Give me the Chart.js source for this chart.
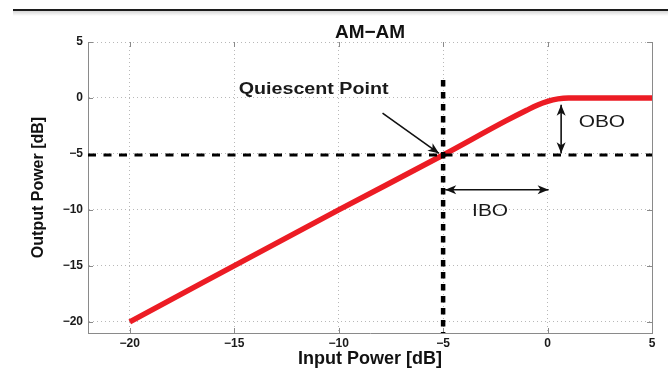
<!DOCTYPE html>
<html>
<head>
<meta charset="utf-8">
<script src="https://cdn.jsdelivr.net/npm/chart.js@4.4.1/dist/chart.umd.min.js"></script>
<style>
  html, body { margin: 0; padding: 0; background: #fff; }
  #wrap { position: relative; width: 668px; height: 370px; }
  #topbar { position: absolute; left: 13px; right: 0; top: 9px; height: 2px; background: #1c1c1c; }
  #shade { position: absolute; left: 13px; right: 0; top: 11px; height: 5px; background: linear-gradient(#d6d6d6, #fff); }
</style>
</head>
<body>
<div id="wrap">
  <canvas id="myChart" width="668" height="370"></canvas>
  <div id="topbar"></div><div id="shade"></div>
</div>
<script>
// AM-AM curve (dB in -> dB out)
const inputDb = [-20, -10, -5, -2, -1, -0.5, 0, 0.5, 1, 5];
const outputDb = [-20, -10, -5.1, -2.05, -1.1, -0.65, -0.3, -0.08, 0, 0];

const xTicks = [-20, -15, -10, -5, 0, 5];
const yTicks = [-20, -15, -10, -5, 0, 5];

// quiescent point (dashed reference lines)
const qIn = -5;
const qOut = -5.1;

// annotations, in data units
const arrows = [
    { from: [-7.9, -1.35], to: [-5.2, -4.95], both: false },
    { from: [0.65, -0.6], to: [0.65, -4.95], both: true },
    { from: [-4.9, -8.2], to: [0.05, -8.2], both: true }
];
const notes = [
    { text: 'Quiescent Point', at: [-11.2, 0.75], bold: true, size: 16 },
    { text: 'OBO', at: [2.6, -2.15], bold: false, size: 17 },
    { text: 'IBO', at: [-2.75, -10.1], bold: false, size: 17 }
];

const FONT = "'Liberation Sans', Arial, Helvetica, sans-serif";
const minus = v => String(v).replace('-', '\u2212');

function arrowHead(ctx, x1, y1, x2, y2) {
    const a = Math.atan2(y2 - y1, x2 - x1);
    const len = 11, half = 4.5, back = 8;
    ctx.beginPath();
    ctx.moveTo(x2, y2);
    ctx.lineTo(x2 - len * Math.cos(a) + half * Math.sin(a), y2 - len * Math.sin(a) - half * Math.cos(a));
    ctx.lineTo(x2 - back * Math.cos(a), y2 - back * Math.sin(a));
    ctx.lineTo(x2 - len * Math.cos(a) - half * Math.sin(a), y2 - len * Math.sin(a) + half * Math.cos(a));
    ctx.closePath();
    ctx.fill();
}

const annotations = {
    id: 'annotations',
    beforeDatasetsDraw(chart) {
        const { ctx, chartArea: ca, scales: { x, y } } = chart;
        ctx.save();
        ctx.strokeStyle = '#8a8a8a';
        ctx.lineWidth = 1;
        ctx.beginPath();
        // right border of the box
        ctx.moveTo(ca.right + 0.5, ca.top);
        ctx.lineTo(ca.right + 0.5, ca.bottom);
        // small inward tick marks, matlab style
        xTicks.forEach(v => {
            const px = Math.round(x.getPixelForValue(v)) + 0.5;
            ctx.moveTo(px, ca.bottom);
            ctx.lineTo(px, ca.bottom - 5);
            ctx.moveTo(px, ca.top);
            ctx.lineTo(px, ca.top + 5);
        });
        yTicks.forEach(v => {
            const py = Math.round(y.getPixelForValue(v)) + 0.5;
            ctx.moveTo(ca.left, py);
            ctx.lineTo(ca.left + 5, py);
            ctx.moveTo(ca.right, py);
            ctx.lineTo(ca.right - 5, py);
        });
        ctx.stroke();
        ctx.restore();
    },
    afterDatasetsDraw(chart) {
        const { ctx, scales: { x, y } } = chart;
        ctx.save();
        ctx.strokeStyle = '#111';
        ctx.fillStyle = '#111';
        ctx.lineWidth = 1.6;
        arrows.forEach(a => {
            const x1 = x.getPixelForValue(a.from[0]), y1 = y.getPixelForValue(a.from[1]);
            const x2 = x.getPixelForValue(a.to[0]), y2 = y.getPixelForValue(a.to[1]);
            ctx.beginPath();
            ctx.moveTo(x1, y1);
            ctx.lineTo(x2, y2);
            ctx.stroke();
            arrowHead(ctx, x1, y1, x2, y2);
            if (a.both) arrowHead(ctx, x2, y2, x1, y1);
        });

        ctx.fillStyle = '#1a1a1a';
        ctx.textAlign = 'center';
        ctx.textBaseline = 'middle';
        notes.forEach(n => {
            ctx.save();
            ctx.translate(x.getPixelForValue(n.at[0]), y.getPixelForValue(n.at[1]));
            ctx.scale(1.23, 1);
            ctx.font = (n.bold ? 'bold ' : '') + n.size + 'px ' + FONT;
            ctx.fillText(n.text, 0, 0);
            ctx.restore();
        });
        ctx.restore();
    }
};

new Chart(document.getElementById('myChart'), {
    type: 'line',
    data: {
        datasets: [
            {
                data: [{ x: -22, y: qOut }, { x: 5, y: qOut }],
                borderColor: '#000',
                borderWidth: 3,
                borderDash: [8, 7.5],
                pointRadius: 0
            },
            {
                data: [{ x: qIn, y: 1.6 }, { x: qIn, y: -21 }],
                borderColor: '#000',
                borderWidth: 4.5,
                borderDash: [6.5, 5.5],
                pointRadius: 0
            },
            {
                data: inputDb.map((v, i) => ({ x: v, y: outputDb[i] })),
                borderColor: '#ec1c24',
                borderWidth: 5.5,
                pointRadius: 0,
                cubicInterpolationMode: 'monotone'
            }
        ]
    },
    options: {
        responsive: false,
        animation: false,
        devicePixelRatio: 1,
        layout: { padding: { left: 0, top: 0, right: 16, bottom: 0 } },
        plugins: {
            legend: { display: false },
            tooltip: { enabled: false },
            title: {
                display: true,
                text: 'AM\u2212AM',
                fullSize: false,
                color: '#111',
                font: { family: FONT, size: 19, weight: 'bold', lineHeight: 1 },
                padding: { top: 23, bottom: 0 }
            }
        },
        scales: {
            x: {
                type: 'linear',
                min: -22,
                max: 5,
                afterFit: s => { s.height = 37; },
                afterBuildTicks: s => { s.ticks = xTicks.map(v => ({ value: v })); },
                ticks: {
                    autoSkip: false,
                    maxRotation: 0,
                    padding: 3,
                    color: '#1a1a1a',
                    font: { family: FONT, size: 12, weight: 'bold' },
                    callback: minus
                },
                grid: { color: '#b8b8b8', lineWidth: 1, drawTicks: false },
                border: { display: true, color: '#8a8a8a', width: 1, dash: [1, 3] },
                title: {
                    display: true,
                    text: 'Input Power [dB]',
                    color: '#111',
                    font: { family: FONT, size: 18, weight: 'bold' },
                    padding: { top: 0, bottom: 0 }
                }
            },
            y: {
                type: 'linear',
                min: -21,
                max: 5,
                afterFit: s => { s.width = 88; },
                afterBuildTicks: s => { s.ticks = yTicks.map(v => ({ value: v })); },
                ticks: {
                    autoSkip: false,
                    padding: 5,
                    color: '#1a1a1a',
                    font: { family: FONT, size: 12, weight: 'bold' },
                    callback: minus
                },
                grid: { color: '#b8b8b8', lineWidth: 1, drawTicks: false },
                border: { display: true, color: '#8a8a8a', width: 1, dash: [1, 3] },
                title: {
                    display: true,
                    text: 'Output Power [dB]',
                    color: '#111',
                    font: { family: FONT, size: 16, weight: 'bold' },
                    padding: { top: 29, bottom: 0 }
                }
            }
        }
    },
    plugins: [annotations]
});
</script>
</body>
</html>
